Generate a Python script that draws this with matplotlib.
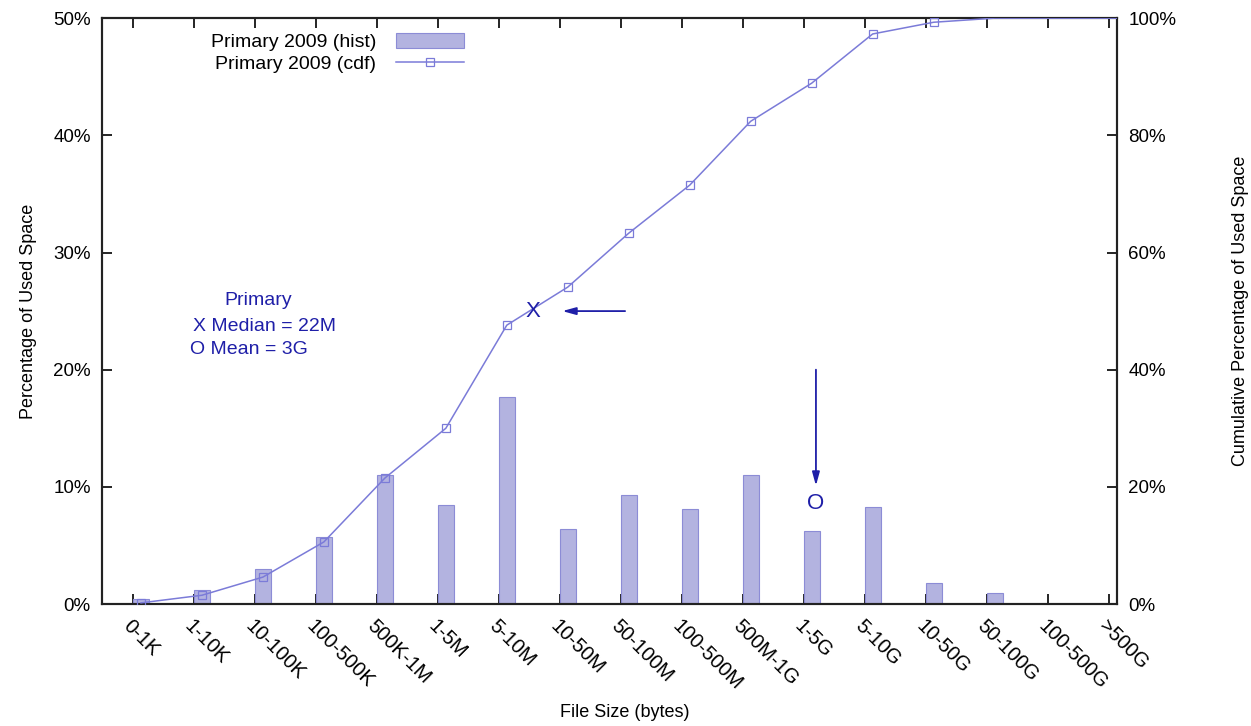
import numpy as np
import matplotlib
matplotlib.use('Agg')
from matplotlib import pyplot as plt
from matplotlib.patches import Patch
from matplotlib.lines import Line2D

plt.rcParams['font.family'] = ['Liberation Sans', 'DejaVu Sans']

# file size buckets
sizes = ['0-1K', '1-10K', '10-100K', '100-500K', '500K-1M', '1-5M', '5-10M',
         '10-50M', '50-100M', '100-500M', '500M-1G', '1-5G', '5-10G',
         '10-50G', '50-100G', '100-500G', '>500G']
# share of used space per bucket (%)
hist = [0.4, 1.2, 3.0, 5.7, 11.0, 8.45, 17.7, 6.4, 9.3, 8.1, 11.0, 6.2, 8.3,
        1.8, 0.9, 0.0, 0.0]
# cumulative share (%)
cdf = [0.2, 1.5, 4.6, 10.6, 21.5, 30.0, 47.6, 54.1, 63.3, 71.5, 82.4, 88.9,
       97.3, 99.3, 100.0, 100.0, 100.0]

median_pos = 6.56   # 22M
median_cdf = 50.0
mean_pos = 11.2     # 3G
mean_pct = 8.6

bar_c = '#b3b3e0'
bar_e = '#8c8cd6'
line_c = '#7b7bd8'
ann_c = '#1f1fa8'

fig = plt.figure(figsize=(12.51, 7.26), dpi=100)
ax = fig.add_axes([0.0815, 0.168, 0.8115, 0.807])
ax2 = ax.twinx()

x = np.arange(len(sizes))
off = 0.13
ax.bar(x + off, hist, width=0.26, color=bar_c, edgecolor=bar_e, linewidth=0.8, zorder=2)

xc = x + off
ax2.plot(xc, cdf, color=line_c, lw=1.1, zorder=3, clip_on=True)
show = [i for i, v in enumerate(cdf) if v < 100]
ax2.plot(xc[show], np.array(cdf)[show], ls='none', marker='s', ms=6,
         mfc='none', mec=line_c, mew=0.9, zorder=3)

ax.set_xlim(-0.51, 16.14)
ax.set_ylim(0, 50)
ax2.set_ylim(0, 100)

ax.set_xticks(x)
ax.set_xticklabels(sizes, rotation=-45, ha='left', va='top',
                   rotation_mode='anchor', fontsize=14.5)
ax.set_yticks(np.arange(0, 51, 10))
ax.set_yticklabels(['%d%%' % v for v in range(0, 51, 10)], fontsize=13.5)
ax2.set_yticks(np.arange(0, 101, 20))
ax2.set_yticklabels(['%d%%' % v for v in range(0, 101, 20)], fontsize=13.5)

ax.tick_params(axis='x', direction='in', length=7, width=1.2, top=True, pad=9)
ax.tick_params(axis='y', direction='in', length=7, width=1.2, pad=8)
ax2.tick_params(axis='y', direction='in', length=7, width=1.2, pad=8)
for a in (ax, ax2):
    for s in a.spines.values():
        s.set_linewidth(1.5)
        s.set_color('#222222')

fig.text(0.4996, 0.019, 'File Size (bytes)', fontsize=13, ha='center', va='center')
ax.set_ylabel('Percentage of Used Space', fontsize=13, labelpad=12)
ax2.set_ylabel('Cumulative Percentage of Used Space', fontsize=13,
               rotation=90, labelpad=40)

# median / mean markers and arrows
ax2.text(median_pos, median_cdf, 'X', color=ann_c, fontsize=16,
         ha='center', va='center', zorder=4)
ax2.annotate('', xy=(median_pos + 0.48, median_cdf), xytext=(8.07, median_cdf),
             arrowprops=dict(arrowstyle='-|>,head_length=0.8,head_width=0.22',
                             color=ann_c, lw=1.3, shrinkA=0, shrinkB=0))
ax.text(mean_pos, mean_pct, 'O', color=ann_c, fontsize=16,
        ha='center', va='center', zorder=4)
ax.annotate('', xy=(mean_pos, mean_pct + 1.5), xytext=(mean_pos, 20.0),
            arrowprops=dict(arrowstyle='-|>,head_length=0.8,head_width=0.22',
                            color=ann_c, lw=1.3, shrinkA=0, shrinkB=0))

ax.text(1.5, 25.9, 'Primary', color=ann_c, fontsize=14, ha='left', va='center')
ax.text(0.98, 23.7, 'X Median = 22M', color=ann_c, fontsize=14, ha='left', va='center')
ax.text(0.93, 21.7, 'O Mean = 3G', color=ann_c, fontsize=14, ha='left', va='center')

handles = [Patch(facecolor=bar_c, edgecolor=bar_e, linewidth=0.8),
           Line2D([0], [0], color=line_c, lw=1.1, marker='s', ms=6,
                  mfc='none', mec=line_c, mew=0.9)]
leg = ax.legend(handles, ['Primary 2009 (hist)', 'Primary 2009 (cdf)'],
                loc='upper left', bbox_to_anchor=(0.09, 1.005), frameon=False,
                markerfirst=False, fontsize=14, handlelength=3.5,
                handleheight=0.8, labelspacing=0.2, handletextpad=1.0)

fig.savefig('out.png', dpi=100)
